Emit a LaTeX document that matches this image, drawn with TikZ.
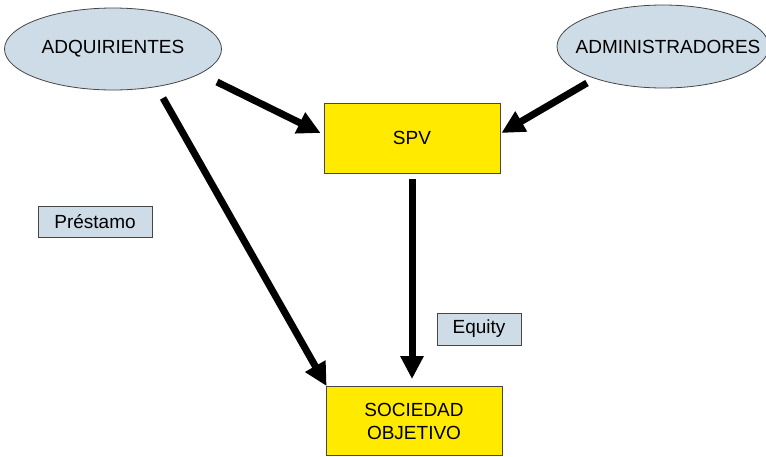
\documentclass[tikz,border=0pt]{standalone}
\usepackage{fontspec}
\setmainfont{Liberation Sans}
\usetikzlibrary{shapes.geometric,arrows.meta}
\definecolor{paleblue}{RGB}{205,220,230}
\definecolor{boxyellow}{RGB}{255,234,0}
\definecolor{edgegray}{RGB}{70,70,70}
\tikzset{
  party/.style={ellipse,draw=edgegray,line width=0.8pt,fill=paleblue,inner sep=0pt},
  partytext/.style={font=\fontsize{19}{22}\selectfont,inner sep=0pt},
  entity/.style={rectangle,draw=edgegray,line width=0.8pt,fill=boxyellow,inner sep=0pt,
    minimum width=176pt,font=\fontsize{19}{23}\selectfont,align=center},
  tag/.style={rectangle,draw=edgegray,line width=0.8pt,fill=paleblue,inner sep=0pt,
    font=\fontsize{19}{22}\selectfont},
  flow/.style={line width=7pt,-{Triangle[length=23pt,width=22pt]}}
}
\begin{document}
\begin{tikzpicture}[x=1pt,y=-1pt]
\useasboundingbox (0,0) rectangle (766,456);
\node[party,minimum width=217pt,minimum height=82pt] (adq) at (113,49) {};
\node[partytext] (adqt) at (adq.center) {ADQUIRIENTES};
\node[party,minimum width=212pt,minimum height=83pt] (adm) at (663,46.5) {};
\node[partytext] (admt) at (668,46.5) {ADMINISTRADORES};
\node[entity,minimum height=70pt] (spv) at (412,138) {SPV};
\node[entity,minimum height=69pt] (soc) at (414,421) {SOCIEDAD\\OBJETIVO};
\node[tag,minimum width=114pt,minimum height=31pt] (prest) at (95,221.5) {Préstamo};
\node[tag,minimum width=84pt,minimum height=32pt] (eq) at (479,329) {Equity};
\coordinate (a1) at (217,82);
\coordinate (a2) at (163,98);
\coordinate (m1) at (587,83);
\draw[flow] (a1) -- ([shift={(-3,-5)}]spv.west);
\draw[flow] (m1) -- ([shift={(1,-5)}]spv.east);
\draw[flow] ([yshift=-6]spv.south) -- ([yshift=7]spv.south |- soc.north);
\draw[flow] (a2) -- ([xshift=1]soc.north west);
\end{tikzpicture}
\end{document}
